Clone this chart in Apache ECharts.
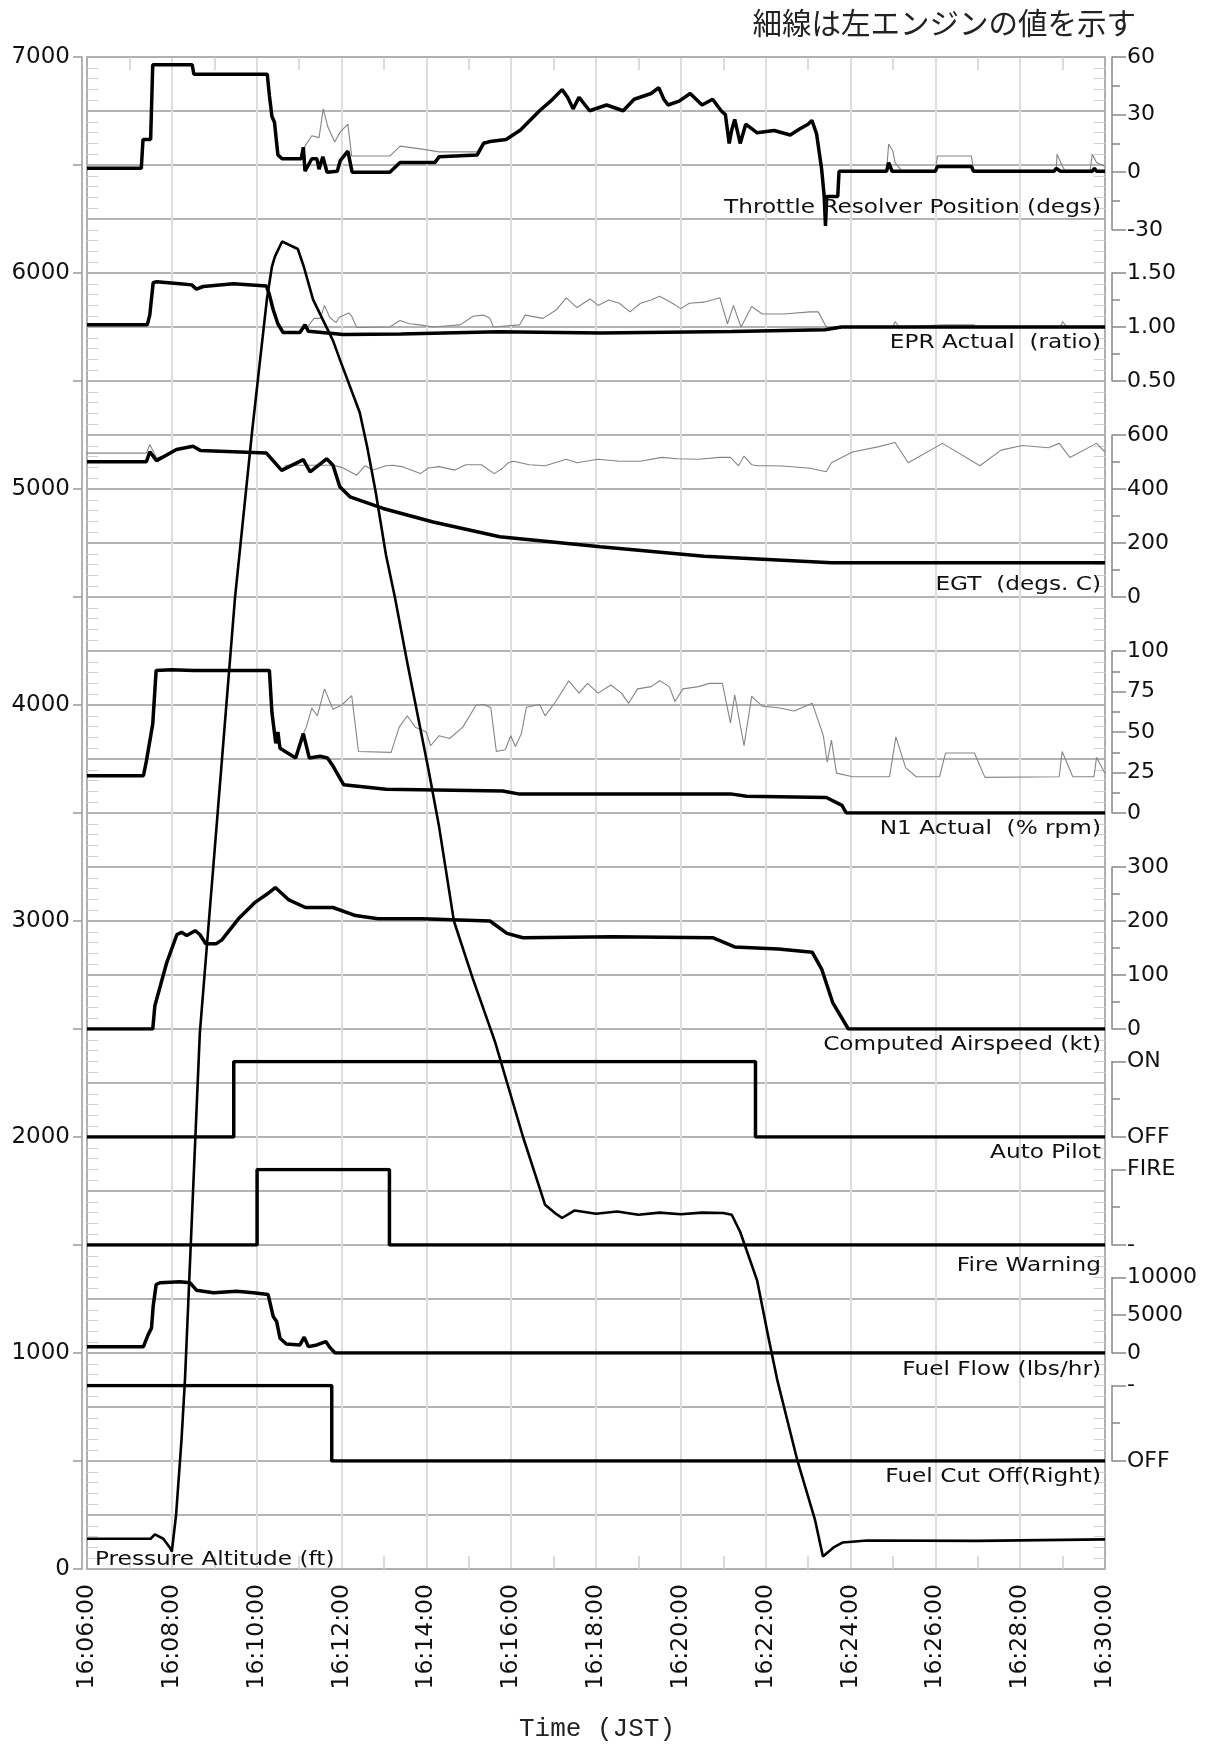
<!DOCTYPE html>
<html>
<head>
<meta charset="utf-8">
<script src="https://cdn.jsdelivr.net/npm/echarts/dist/echarts.min.js"></script>
<style>
html,body{margin:0;padding:0;background:#fff;}
#chart{width:1211px;height:1746px;}
</style>
</head>
<body>
<div id="chart"></div>
<script>
// time is minutes past 16:00 (6 = 16:06:00 ... 30 = 16:30:00)
var altitudeFt = [[6.0,140],[7.5,140],[7.6,160],[7.8,140],[7.95,100],[8.0,81],[8.1,250],[8.23,604],[8.31,878],[8.66,2481],[9.08,3500],[9.49,4498],[9.89,5262],[10.24,5877],[10.36,6030],[10.43,6076],[10.6,6146],[10.97,6111],[11.11,6030],[11.33,5877],[11.8,5687],[11.96,5600],[12.43,5354],[12.6,5200],[12.8,4993],[13.05,4693],[13.26,4498],[13.55,4197],[14.05,3701],[14.3,3437],[14.65,3000],[15.09,2737],[15.55,2480],[15.62,2440],[16.28,2000],[16.8,1686],[17.06,1644],[17.2,1625],[17.5,1660],[18.0,1645],[18.5,1655],[19.0,1640],[19.5,1650],[20.0,1642],[20.5,1650],[21.0,1648],[21.2,1640],[21.4,1560],[21.8,1335],[22.06,1077],[22.27,878],[22.74,508],[23.16,230],[23.35,58],[23.6,100],[23.82,123],[24.39,132],[27.0,130],[30.0,137]];

var throttleRight = [[6.0,2],[7.28,2],[7.32,17],[7.5,17],[7.55,56],[8.48,56],[8.52,51],[10.25,51],[10.3,40],[10.36,29],[10.42,26],[10.5,9],[10.6,7],[11.05,7],[11.1,13],[11.14,0.5],[11.3,7],[11.42,7],[11.47,1.6],[11.56,8],[11.66,0],[11.9,0.5],[11.97,6],[12.15,11],[12.25,0],[13.14,0],[13.38,5],[14.2,5],[14.3,8],[15.2,9],[15.35,15],[15.5,16],[15.88,17],[16.22,22],[16.4,26],[16.67,32],[16.93,37],[17.2,43],[17.33,39],[17.46,33],[17.6,39],[17.85,32],[18.25,35],[18.64,32],[18.9,38],[19.3,41],[19.48,44],[19.6,38],[19.7,35],[19.96,37],[20.22,41],[20.5,35],[20.75,38],[20.95,32],[21.05,30],[21.14,15],[21.2,22],[21.27,27.5],[21.4,15],[21.53,25],[21.8,20.5],[22.2,21.7],[22.58,19.4],[22.8,22.5],[23.0,25],[23.09,27],[23.2,20],[23.32,1.5],[23.38,-12.6],[23.41,-28],[23.44,-12.6],[23.7,-12.6],[23.73,0.5],[24.85,0.5],[24.9,5],[24.98,0.5],[26.0,0.5],[26.05,3],[26.85,3],[26.9,0.5],[28.8,0.5],[28.85,2],[28.95,0.5],[29.7,0.5],[29.75,2],[29.8,0.5],[30,0.5]];
var throttleLeft = [[11.05,7],[11.14,13.6],[11.3,19],[11.47,18],[11.57,33],[11.68,23.5],[11.84,15.7],[11.97,21],[12.15,25],[12.24,8.4],[13.14,8.4],[13.38,13.6],[13.9,12],[14.3,10.6],[15.2,10.6],[15.35,16],[15.5,16],[15.6,'-'],[23.73,0.5],[24.85,1],[24.9,14.6],[25.0,11],[25.05,5],[25.2,1],[26.0,1],[26.05,8.4],[26.85,8.4],[26.9,1],[28.85,1],[28.87,9.4],[29.0,3],[29.05,1],[29.65,1],[29.7,9.4],[29.8,5],[30,3]];

var eprRight = [[6,1.02],[7.42,1.02],[7.48,1.11],[7.56,1.41],[7.64,1.42],[8.19,1.40],[8.47,1.39],[8.58,1.35],[8.74,1.375],[9.45,1.40],[10.23,1.38],[10.3,1.30],[10.39,1.16],[10.5,1.03],[10.62,0.95],[11.02,0.95],[11.14,1.02],[11.22,0.96],[11.8,0.94],[12.03,0.93],[13.4,0.935],[15.7,0.955],[18.1,0.945],[21.2,0.958],[23.4,0.975],[23.79,1.0],[30,1.0]];
var eprLeft = [[11.14,1.0],[11.2,1.0],[11.35,1.08],[11.5,1.08],[11.6,1.20],[11.72,1.09],[11.87,1.04],[11.95,1.09],[12.17,1.13],[12.24,1.10],[12.36,0.995],[13.14,1.0],[13.38,1.06],[13.6,1.03],[13.85,1.02],[14.16,1.0],[14.8,1.02],[15.1,1.10],[15.34,1.11],[15.5,1.08],[15.58,1.0],[16.2,1.02],[16.33,1.11],[16.75,1.08],[17.07,1.16],[17.3,1.27],[17.55,1.18],[17.86,1.26],[18.05,1.2],[18.3,1.25],[18.55,1.22],[18.8,1.14],[19.05,1.22],[19.3,1.25],[19.5,1.285],[19.8,1.22],[20.0,1.17],[20.2,1.22],[20.55,1.23],[20.92,1.27],[21.1,1.03],[21.24,1.2],[21.42,1.0],[21.67,1.19],[21.92,1.12],[22.42,1.12],[23.05,1.14],[23.24,1.14],[23.43,1.0],[25.0,1.0],[25.05,1.05],[25.15,1.0],[26.2,1.02],[26.9,1.02],[27.0,1.0],[28.95,1.0],[29.0,1.05],[29.1,1.0],[30,1.0]];

var egtRight = [[6,501],[7.4,501],[7.48,538],[7.64,505],[8.11,546],[8.5,558],[8.67,543],[10.23,533],[10.59,469],[11.1,509],[11.26,463],[11.65,512],[11.8,488],[11.96,408],[12.2,371],[12.98,328],[14.16,278],[15.73,223],[18.1,186],[20.55,151],[23.55,127],[30,127]];
var egtLeft = [[6,533],[7.4,533],[7.48,565],[7.64,515],[7.75,520],[7.8,'-'],[10.59,469],[10.7,488],[11.18,488],[11.8,488],[11.96,482],[12.05,477],[12.36,451],[12.55,486],[12.74,470],[13.05,486],[13.2,488],[13.42,483],[13.86,457],[14.05,478],[14.3,483],[14.67,470],[14.93,490],[15.3,490],[15.6,457],[15.8,477],[15.93,497],[16.05,503],[16.43,490],[16.8,486],[17.3,510],[17.55,497],[18.05,510],[18.55,503],[19.05,503],[19.55,517],[19.93,512],[20.42,510],[20.92,517],[21.17,517],[21.36,486],[21.49,522],[21.67,490],[21.8,486],[22.05,486],[22.4,485],[23.05,477],[23.43,464],[23.55,497],[24.05,537],[24.67,557],[25.05,572],[25.36,497],[26.17,569],[27.05,486],[27.55,544],[28.05,561],[28.67,553],[28.92,569],[29.17,517],[29.8,569],[30,537]];

var n1Right = [[6,23],[7.33,23],[7.4,32],[7.55,55],[7.63,88],[8.0,88.5],[8.5,88],[9.5,88],[10.3,88],[10.36,62],[10.45,43],[10.5,50],[10.55,40],[10.92,34],[11.1,49],[11.24,34],[11.5,35],[11.67,34],[11.8,29],[12.05,17.5],[13.05,14.6],[15.8,13.6],[16.17,11.8],[21.17,11.8],[21.55,10.3],[23.43,9.6],[23.8,4.7],[23.9,0],[30,0]];
var n1Left = [[11.1,49],[11.17,53],[11.3,64.7],[11.43,60],[11.6,76.6],[11.8,64],[12.0,66.5],[12.24,72.5],[12.4,38],[13.17,37.4],[13.36,53],[13.55,60],[13.74,53],[14.0,50],[14.1,41.5],[14.3,47.7],[14.55,46],[14.86,53],[15.17,66.5],[15.36,67],[15.52,65],[15.65,38],[15.86,39],[15.99,47.7],[16.1,41],[16.24,49],[16.36,65.3],[16.67,67],[16.8,60],[17.05,68.8],[17.36,81.6],[17.6,74],[17.8,80],[18.05,74],[18.35,79],[18.6,74],[18.77,67.7],[18.98,76.6],[19.3,78],[19.5,81.6],[19.73,78],[19.86,68.8],[20.05,76.6],[20.42,78],[20.67,80],[20.98,80],[21.17,55.6],[21.27,73],[21.49,41.5],[21.67,72],[21.92,66],[22.3,65],[22.67,63],[23.1,67.7],[23.36,47.7],[23.45,31.3],[23.55,45],[23.67,24.6],[24.05,22.4],[24.92,22.4],[25.07,47],[25.3,28],[25.55,22.4],[26.1,22.4],[26.24,37],[26.92,37],[27.17,22],[28.92,22.4],[28.99,38],[29.24,22.4],[29.74,22.4],[29.8,34.3],[30,24.6]];

var airspeedKt = [[6,0],[7.55,0],[7.6,43],[7.88,123],[8.12,175],[8.23,179],[8.35,173],[8.55,182],[8.66,175],[8.8,158],[9.05,158],[9.18,165],[9.57,204],[9.97,235],[10.23,249],[10.44,262],[10.76,239],[11.15,225],[11.8,225],[12.33,210],[12.86,204],[13.9,204],[15.5,200],[15.9,177],[16.28,169],[18.4,171],[20.75,169],[21.27,152],[22.3,148],[23.1,142],[23.32,111],[23.58,49],[23.95,0],[30,0]];

var autoPilot = [[6,0],[9.46,1],[21.76,0],[30,0]];
var fireWarning = [[6,0],[10.01,1],[13.13,0],[30,0]];
var fuelFlow = [[6,840],[7.33,840],[7.37,980],[7.44,2400],[7.52,3290],[7.56,6180],[7.63,9060],[7.72,9290],[8.19,9420],[8.43,9290],[8.58,8310],[8.98,7960],[9.53,8180],[9.92,7960],[10.27,7730],[10.39,4840],[10.47,4180],[10.55,1960],[10.7,1200],[11.02,1070],[11.12,2090],[11.22,840],[11.42,1070],[11.63,1510],[11.73,710],[11.85,0],[30,0]];
var fuelCutOff = [[6,1],[11.77,0],[30,0]];

var apLabels = ['OFF', 'ON'];
var fireLabels = ['-', 'FIRE'];
var cutLabels = ['OFF', '-'];

// plot frame in pixels
var L = 87, R = 1105, T = 57, B = 1569;
function pxY(v) { return T + (7000 - v) * (B - T) / 7000; }

var numFont = { fontFamily: 'DejaVu Sans', fontSize: 22, color: '#111' };

function plain(v) { return String(v); }

var panels = [
	{ title: 'Throttle Resolver Position (degs)', from: 7000, to: 6200, min: -30, max: 60, interval: 30, minor: 2, titleY: 208, thin: throttleLeft, thick: throttleRight },
	{ title: 'EPR Actual  (ratio)', from: 6000, to: 5500, min: 0.5, max: 1.5, interval: 0.5, minor: 2, titleY: 343, thin: eprLeft, thick: eprRight, fmt: function (v) { return v.toFixed(2); } },
	{ title: 'EGT  (degs. C)', from: 5250, to: 4500, min: 0, max: 600, interval: 200, minor: 2, titleY: 585, thin: egtLeft, thick: egtRight },
	{ title: 'N1 Actual  (% rpm)', from: 4250, to: 3500, min: 0, max: 100, interval: 25, minor: 2, titleY: 829, thin: n1Left, thick: n1Right },
	{ title: 'Computed Airspeed (kt)', from: 3250, to: 2500, min: 0, max: 300, interval: 100, minor: 2, titleY: 1045, thick: airspeedKt },
	{ title: 'Auto Pilot', from: 2350, to: 2000, min: 0, max: 1, interval: 1, minor: 2, titleY: 1153, thick: autoPilot, step: true, names: apLabels },
	{ title: 'Fire Warning', from: 1850, to: 1500, min: 0, max: 1, interval: 1, minor: 2, titleY: 1266, thick: fireWarning, step: true, names: fireLabels },
	{ title: 'Fuel Flow (lbs/hr)', from: 1350, to: 1000, min: 0, max: 10000, interval: 5000, minor: 0, titleY: 1370, thick: fuelFlow },
	{ title: 'Fuel Cut Off(Right)', from: 850, to: 500, min: 0, max: 1, interval: 1, minor: 2, titleY: 1477, thick: fuelCutOff, step: true, names: cutLabels }
];

function timeLabel(v) {
	return '16:' + (v < 10 ? '0' : '') + v + ':00';
}

var grids = [{ left: L, top: T, width: R - L, height: B - T, containLabel: false, outerBoundsMode: 'none' }];
var xAxes = [
	{ gridIndex: 0, type: 'value', position: 'bottom', min: 6, max: 30, interval: 2,
	  axisLine: { show: true, onZero: false, lineStyle: { color: '#b0b0b0', width: 2 } },
	  axisTick: { show: false, inside: true },
	  minorTick: { show: true, splitNumber: 2, length: 13, lineStyle: { color: '#cfcfcf', width: 1.5 } },
	  axisLabel: { rotate: 90, margin: 15, formatter: timeLabel, fontFamily: 'DejaVu Sans', fontSize: 23.5, color: '#111' },
	  splitLine: { show: true, lineStyle: { color: '#dedede', width: 2 } } },
	{ gridIndex: 0, type: 'value', position: 'top', min: 6, max: 30, interval: 2,
	  axisLine: { show: true, onZero: false, lineStyle: { color: '#b0b0b0', width: 2 } },
	  axisTick: { show: false, inside: true },
	  minorTick: { show: true, splitNumber: 2, length: 13, lineStyle: { color: '#cfcfcf', width: 1.5 } },
	  axisLabel: { show: false }, splitLine: { show: false } }
];
var yAxes = [
	{ gridIndex: 0, type: 'value', position: 'left', min: 0, max: 7000, interval: 250,
	  axisLine: { show: true, onZero: false, lineStyle: { color: '#b0b0b0', width: 2 } },
	  axisTick: { show: false, inside: true },
	  minorTick: { show: true, splitNumber: 5, length: 11, lineStyle: { color: '#d0d0d0', width: 1 } },
	  axisLabel: { show: false },
	  splitLine: { show: true, lineStyle: { color: '#b4b4b4', width: 2 } } },
	{ gridIndex: 0, type: 'value', position: 'left', offset: 5, min: 0, max: 7000, interval: 500,
	  axisLine: { show: true, onZero: false, lineStyle: { color: '#999', width: 1.5 } },
	  axisTick: { show: true, length: 9, lineStyle: { color: '#999', width: 1.5 } },
	  axisLabel: { margin: 12, formatter: function (v) { return v % 1000 === 0 ? String(v) : ''; }, fontFamily: 'DejaVu Sans', fontSize: 23, color: '#111' },
	  splitLine: { show: false } },
	{ gridIndex: 0, type: 'value', position: 'right', min: 0, max: 7000, interval: 250,
	  axisLine: { show: true, onZero: false, lineStyle: { color: '#b0b0b0', width: 2 } },
	  axisTick: { show: false, inside: true },
	  minorTick: { show: true, splitNumber: 5, length: 11, lineStyle: { color: '#d0d0d0', width: 1 } },
	  axisLabel: { show: false }, splitLine: { show: false } }
];

var series = [{
	type: 'line', xAxisIndex: 0, yAxisIndex: 0, data: altitudeFt, showSymbol: false, symbol: 'none',
	lineStyle: { color: '#000', width: 2.6 }, z: 5, silent: true
}];

var graphics = [];

panels.forEach(function (p, i) {
	var gi = i + 1;
	var top = pxY(p.from), bottom = pxY(p.to);
	grids.push({ left: L, top: top, width: R - L, height: bottom - top, containLabel: false, outerBoundsMode: 'none' });
	xAxes.push({ gridIndex: gi, type: 'value', min: 6, max: 30, show: false });
	var fmt = p.fmt || plain;
	if (p.names) {
		var names = p.names;
		fmt = function (v) { return names[v]; };
	}
	yAxes.push({
		gridIndex: gi, type: 'value', position: 'right', offset: 7,
		min: p.min, max: p.max, interval: p.interval,
		axisLine: { show: true, onZero: false, lineStyle: { color: '#888', width: 1.5 } },
		axisTick: { show: true, length: 14, lineStyle: { color: '#888', width: 1.5 } },
		minorTick: { show: p.minor > 0, splitNumber: p.minor || 2, length: 8, lineStyle: { color: '#888', width: 1.5 } },
		axisLabel: Object.assign({ margin: 15, formatter: fmt }, numFont),
		splitLine: { show: false }
	});
	var yi = yAxes.length - 1;
	if (p.thin) {
		series.push({ type: 'line', xAxisIndex: gi + 1, yAxisIndex: yi, data: p.thin, showSymbol: false, symbol: 'none',
			lineStyle: { color: '#858585', width: 1.1 }, z: 3, silent: true });
	}
	series.push({ type: 'line', xAxisIndex: gi + 1, yAxisIndex: yi, data: p.thick, showSymbol: false, symbol: 'none',
		step: p.step ? 'end' : false,
		lineStyle: { color: '#000', width: 3.5 }, z: 4, silent: true });
	graphics.push({
		type: 'text', x: 1101, y: p.titleY, scaleX: 1.16, z: 10,
		style: { text: p.title, font: '20px "DejaVu Sans"', fill: '#111', align: 'right', textAlign: 'right', verticalAlign: 'middle', textVerticalAlign: 'middle' }
	});
});

graphics.push({
	type: 'text', x: 95, y: 1560, scaleX: 1.16, z: 10,
	style: { text: 'Pressure Altitude (ft)', font: '20px "DejaVu Sans"', fill: '#111', align: 'left', textAlign: 'left', verticalAlign: 'middle', textVerticalAlign: 'middle' }
});
graphics.push({
	type: 'text', x: 1136, y: 23, z: 10,
	style: { text: '細線は左エンジンの値を示す', font: '29.5px "Noto Sans CJK JP"', fill: '#222', align: 'right', textAlign: 'right', verticalAlign: 'middle', textVerticalAlign: 'middle' }
});
graphics.push({
	type: 'text', x: 597, y: 1729, z: 10,
	style: { text: 'Time (JST)', font: '26px "Liberation Mono"', fill: '#222', align: 'center', textAlign: 'center', verticalAlign: 'middle', textVerticalAlign: 'middle' }
});

var chart = echarts.init(document.getElementById('chart'));
chart.setOption({
	animation: false,
	backgroundColor: '#fff',
	grid: grids,
	xAxis: xAxes,
	yAxis: yAxes,
	series: series,
	graphic: graphics
});
window.onresize = chart.resize;
</script>
</body>
</html>
